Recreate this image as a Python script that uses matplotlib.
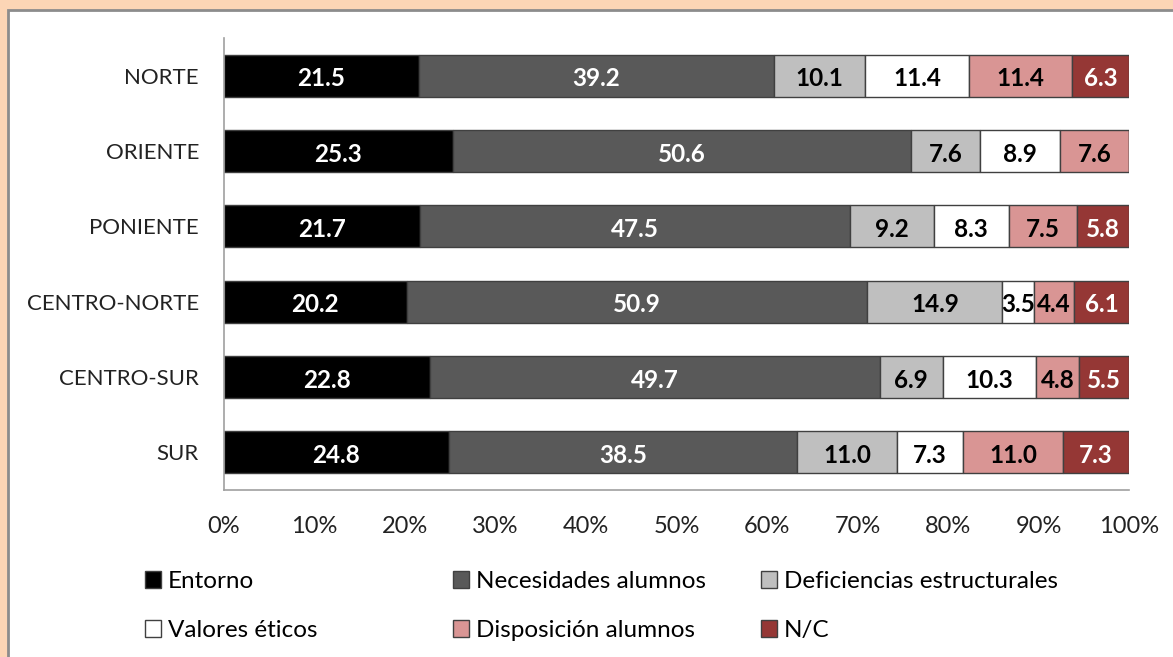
import numpy as np
import matplotlib.pyplot as plt
from matplotlib.patches import Rectangle, Patch
from matplotlib.ticker import PercentFormatter

plt.rcParams['font.family'] = ['Lato', 'DejaVu Sans']

zones = ['NORTE', 'ORIENTE', 'PONIENTE', 'CENTRO-NORTE', 'CENTRO-SUR', 'SUR']
series = ['Entorno', 'Necesidades alumnos', 'Deficiencias estructurales',
          'Valores éticos', 'Disposición alumnos', 'N/C']

entorno = [21.5, 25.3, 21.7, 20.2, 22.8, 24.8]
necesidades = [39.2, 50.6, 47.5, 50.9, 49.7, 38.5]
deficiencias = [10.1, 7.6, 9.2, 14.9, 6.9, 11.0]
valores = [11.4, 8.9, 8.3, 3.5, 10.3, 7.3]
disposicion = [11.4, 7.6, 7.5, 4.4, 4.8, 11.0]
nc = [6.3, 0.0, 5.8, 6.1, 5.5, 7.3]

colors = ['#000000', '#595959', '#bfbfbf', '#ffffff', '#d99594', '#953735']
text_colors = ['white', 'white', 'black', 'black', 'black', 'white']

data = np.array([entorno, necesidades, deficiencias, valores, disposicion, nc])
pct = data / data.sum(axis=0) * 100

fig = plt.figure(figsize=(11.73, 6.57), dpi=100)
fig.patch.set_facecolor('#fcd5b5')
# white chart panel with grey frame
fig.patches.append(Rectangle((8 / 1173, -0.1), 1.2, 1 - 9.5 / 657 + 0.1,
                             transform=fig.transFigure, facecolor='white',
                             edgecolor='#8c8c8c', linewidth=2, zorder=-10))

ax = fig.add_axes([224 / 1173, 1 - 490 / 657, 905 / 1173, 452 / 657])
ax.set_facecolor('none')

y = np.arange(len(zones))
left = np.zeros(len(zones))
for i, name in enumerate(series):
    bars = ax.barh(y, pct[i], left=left, height=0.56, color=colors[i],
                   edgecolor='#404040', linewidth=1, label=name)
    for j, b in enumerate(bars):
        if data[i, j] > 0:
            ax.text(left[j] + pct[i, j] / 2, y[j] + 0.04, f'{data[i, j]:.1f}',
                    ha='center', va='center', color=text_colors[i],
                    fontsize=17.5, fontweight='bold')
    left += pct[i]

ax.set_xlim(0, 100)
ax.set_ylim(len(zones) - 0.5, -0.5)
ax.set_yticks(y)
ax.set_yticklabels(zones)
ax.set_xticks(np.arange(0, 101, 10))
ax.xaxis.set_major_formatter(PercentFormatter(decimals=0))
ax.tick_params(axis='both', length=0, labelsize=17, colors='#222222')
ax.tick_params(axis='y', labelsize=16, pad=18)
ax.tick_params(axis='x', pad=19)
for s in ['top', 'right']:
    ax.spines[s].set_visible(False)
for s in ['left', 'bottom']:
    ax.spines[s].set_color('#a0a0a0')
    ax.spines[s].set_linewidth(1.2)

# legend: three columns evenly spaced, row-wise order
handles = [Patch(facecolor=c, edgecolor='#404040', linewidth=1) for c in colors]
for col in range(3):
    idx = [col, col + 3]
    leg = fig.legend([handles[k] for k in idx], [series[k] for k in idx],
                     loc='upper left', bbox_to_anchor=((145 + col * 308) / 1173, 1 - 571 / 657),
                     frameon=False, fontsize=17.5, handlelength=0.65, handleheight=0.65,
                     handletextpad=0.3, labelspacing=1.15, borderaxespad=0, borderpad=0)

fig.savefig('out.png', dpi=100, facecolor=fig.get_facecolor())
